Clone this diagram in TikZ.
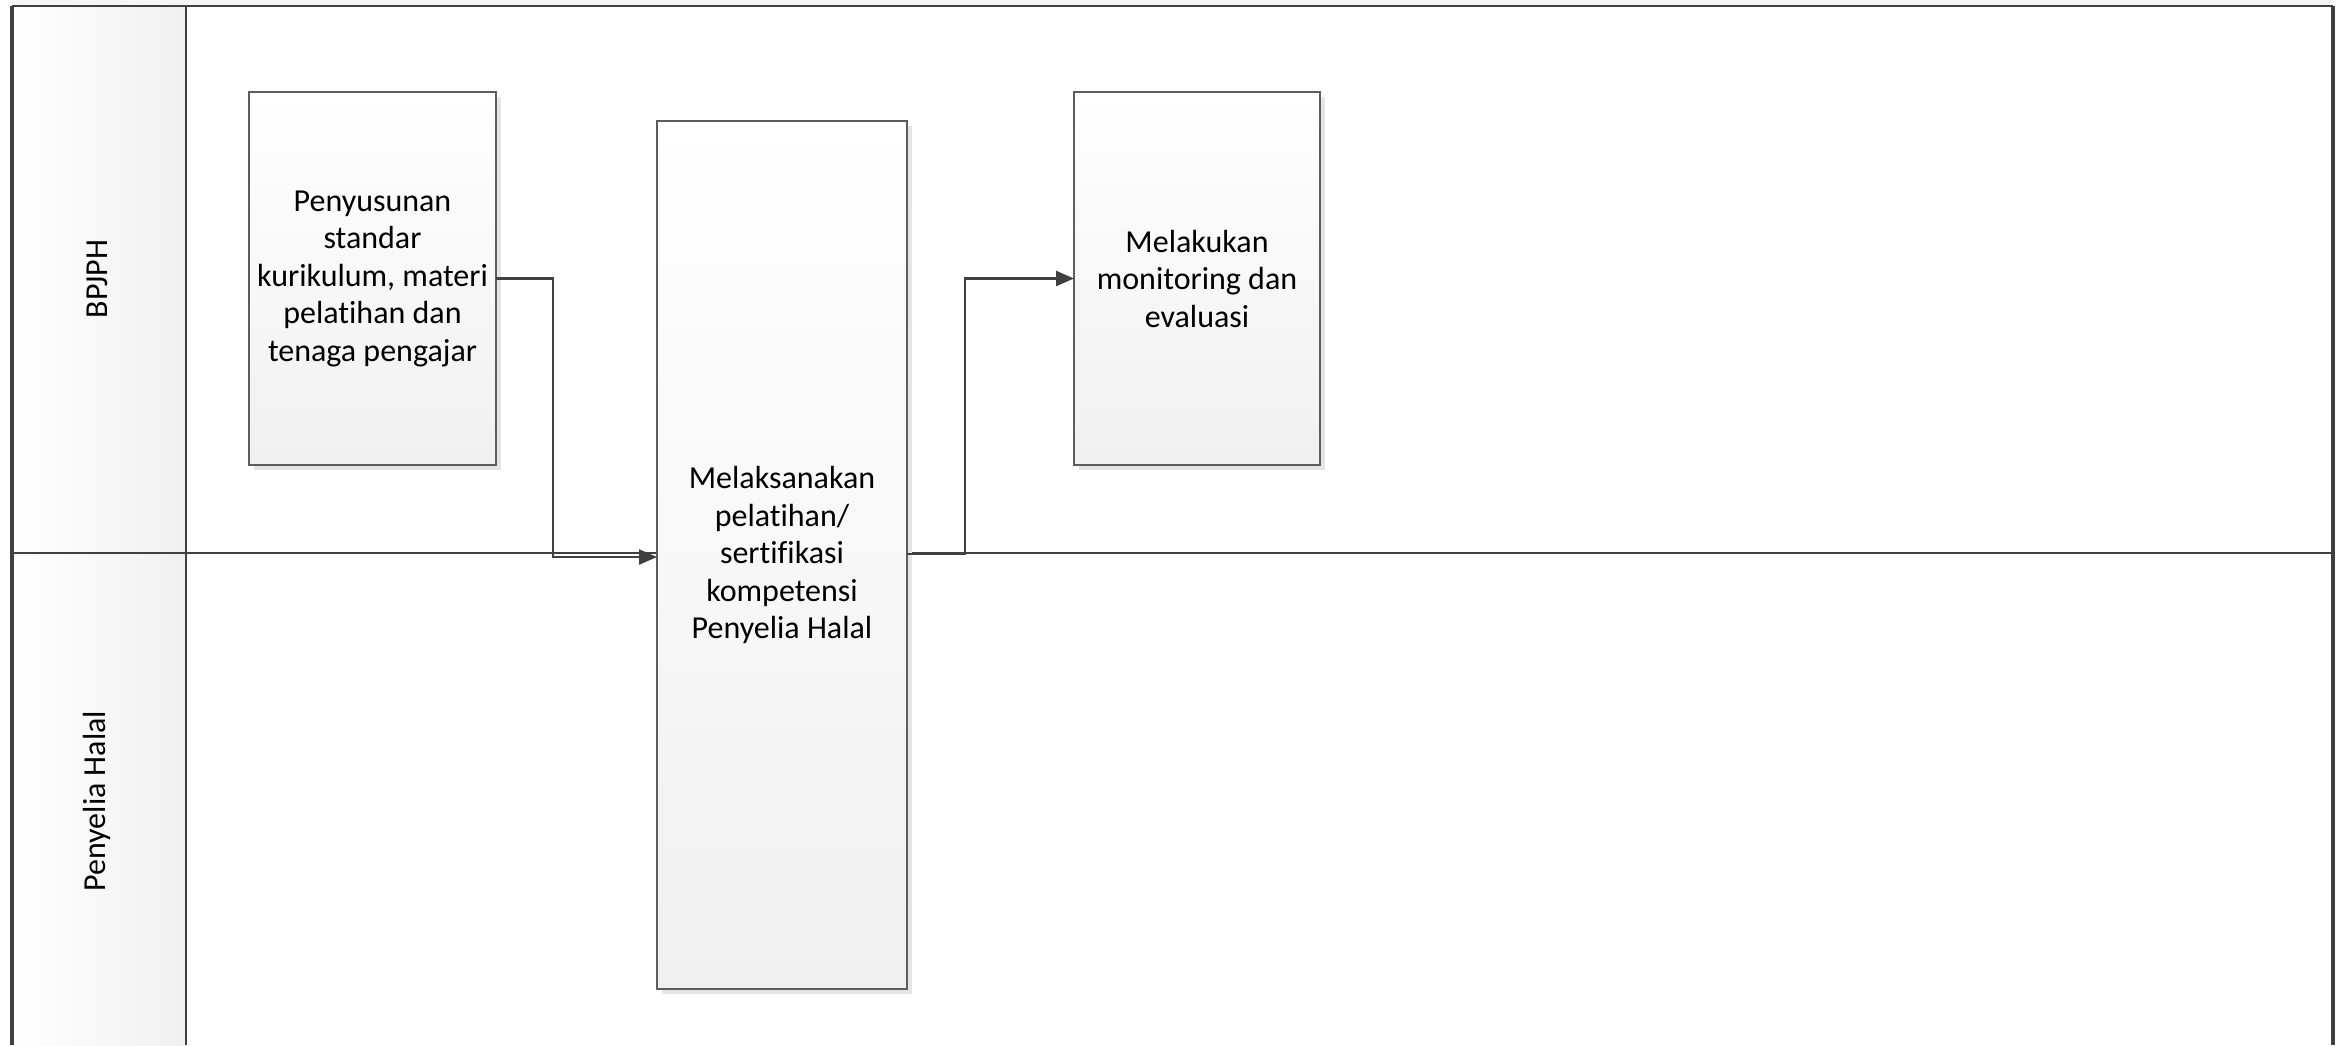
\documentclass[tikz,border=0pt]{standalone}
\usepackage{fontspec}
\setmainfont{Carlito}[Ligatures=NoCommon]
\usetikzlibrary{arrows.meta,shadows}
\definecolor{lineg}{HTML}{404040}
\definecolor{boxg}{HTML}{F0F0F0}
\tikzset{
  procbox/.style={draw=lineg!85, line width=1.4pt, top color=white, bottom color=boxg,
    anchor=north west, inner sep=0pt, outer sep=0pt, align=center,
    font=\fontsize{32}{37.5}\selectfont,
    drop shadow={shadow xshift=5pt, shadow yshift=-5pt, fill=black!10, opacity=1}},
  lanelbl/.style={rotate=90, font=\fontsize{32}{37.5}\selectfont},
  conn/.style={draw=lineg, line width=2.4pt, -{Triangle[length=18pt,width=15pt]}},
  poolline/.style={draw=lineg, line width=2.6pt},
}
\begin{document}
\begin{tikzpicture}[x=1pt,y=-1pt]
\useasboundingbox (0,0) rectangle (2336,1045);
\fill[white] (0,0) rectangle (2336,1045);
\fill[boxg!60] (12,0) rectangle (2333,6);
% header column
\fill[left color=white, right color=boxg] (12,6) rectangle (186,1045);
% pool lines
\draw[poolline] (12,6) -- (2333,6);
\draw[poolline] (12,553) -- (2333,553);
\draw[draw=lineg, line width=3.2pt] (12,6) -- (12,1045);
\draw[draw=lineg, line width=3.2pt] (2333,6) -- (2333,1045);
\draw[draw=lineg, line width=2pt] (186,6) -- (186,1045);
% lane labels
\node[lanelbl] (lane1) at (97,279) {BPJPH};
\node[lanelbl] (lane2) at (97,801) {Penyelia Halal};
% boxes
\node[procbox, minimum width=247pt, minimum height=373pt] (b1) at (249,92)
  {Penyusunan\\standar\\kurikulum, materi\\pelatihan dan\\tenaga pengajar};
\node[procbox, minimum width=250pt, minimum height=868pt] (b2) at (657,121)
  {Melaksanakan\\pelatihan/\\sertifikasi\\kompetensi\\Penyelia Halal};
\node[procbox, minimum width=246pt, minimum height=373pt] (b3) at (1074,92)
  {Melakukan\\monitoring dan\\evaluasi};
% connectors
\coordinate (j1) at (553,557);
\coordinate (j2) at (965,554);
\draw[conn] (b1.east) -| (j1) -- (b2.west |- j1);
\draw[conn] (b2.east |- j2) -- (j2) |- (b3.west);
\end{tikzpicture}
\end{document}
